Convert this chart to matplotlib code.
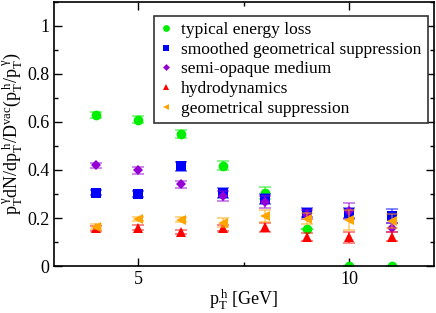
import matplotlib
matplotlib.use("Agg")
import matplotlib.pyplot as plt
from matplotlib.ticker import MultipleLocator

plt.rcParams['font.family'] = ['Liberation Serif', 'DejaVu Serif']
plt.rcParams['mathtext.fontset'] = 'custom'
plt.rcParams['mathtext.rm'] = 'Liberation Serif'
plt.rcParams['mathtext.it'] = 'Liberation Serif:italic'

pt = [4, 5, 6, 7, 8, 9, 10, 11]

typical = [0.63, 0.61, 0.55, 0.418, 0.303, 0.153, 0.0, 0.0]
typical_err = [0.012, 0.015, 0.018, 0.02, 0.025, 0.0, 0.0, 0.0]

smoothed = [0.305, 0.30, 0.415, 0.305, 0.28, 0.222, 0.22, 0.208]
smoothed_err = [0.01, 0.012, 0.02, 0.022, 0.022, 0.018, 0.022, 0.03]

semi = [0.419, 0.399, 0.341, 0.291, 0.268, 0.214, 0.229, 0.16]
semi_err = [0.01, 0.015, 0.015, 0.02, 0.025, 0.02, 0.035, 0.02]

hydro = [0.157, 0.16, 0.142, 0.16, 0.161, 0.121, 0.12, 0.123]
hydro_err = [0.01, 0.01, 0.008, 0.012, 0.018, 0.018, 0.022, 0.02]

geom = [0.164, 0.196, 0.193, 0.181, 0.208, 0.197, 0.192, 0.188]
geom_err = [0.01, 0.01, 0.01, 0.018, 0.025, 0.022, 0.04, 0.03]

series = [
    ("typical energy loss", typical, typical_err, '#00ee00', 'o', 7),
    ("smoothed geometrical suppression", smoothed, smoothed_err, '#0000ff', 's', 6.5),
    ("semi-opaque medium", semi, semi_err, '#9400d3', 'D', 5),
    ("hydrodynamics", hydro, hydro_err, '#ff0000', '^', 7),
    ("geometrical suppression", geom, geom_err, '#ffa500', '<', 7),
]

fig = plt.figure(figsize=(4.36, 3.13), dpi=100)
ax = fig.add_axes([0.124, 0.150, 0.871, 0.844])

handles = []
for label, y, e, c, m, ms in series:
    ax.errorbar(pt, y, yerr=e, fmt='none', ecolor=c, alpha=0.55,
                elinewidth=1.2, capsize=4, capthick=1.2)
    h, = ax.plot(pt, y, linestyle='none', marker=m, color=c, markersize=ms,
                 markeredgewidth=0, label=label)
    handles.append(h)

ax.set_xlim(3, 12)
ax.set_ylim(0, 1.1)
ax.xaxis.set_major_locator(MultipleLocator(5))
ax.xaxis.set_minor_locator(MultipleLocator(2.5))
ax.yaxis.set_major_locator(MultipleLocator(0.2))
ax.yaxis.set_minor_locator(MultipleLocator(0.1))
ax.set_yticks([0, 0.2, 0.4, 0.6, 0.8, 1.0])
ax.set_yticklabels(['0', '0.2', '0.4', '0.6', '0.8', '1'])
ax.tick_params(which='both', direction='in', top=True, right=True, labelsize=13)
ax.tick_params(which='major', length=6, width=1)
ax.tick_params(which='minor', length=3, width=1)
for s in ax.spines.values():
    s.set_linewidth(1.2)

ax.set_xlabel(r'$\mathrm{p_T^{\;h}\ [GeV]}$', fontsize=13, labelpad=0)
ax.set_ylabel(r'$\mathrm{p_T^{\;\gamma}dN/dp_T^{\;h}/D^{vac}(p_T^{\;h}/p_T^{\;\gamma})}$',
              fontsize=13, labelpad=2)

leg = ax.legend(handles=handles, loc='upper right', bbox_to_anchor=(0.984, 0.947),
                borderaxespad=0,
                fontsize=12.5, frameon=True, fancybox=False, edgecolor='#333333',
                framealpha=1, handlelength=0.6, handletextpad=0.6,
                borderpad=0.35, labelspacing=0.2, markerscale=0.7)
leg.get_frame().set_linewidth(1.2)

fig.savefig('out.png', dpi=100)
